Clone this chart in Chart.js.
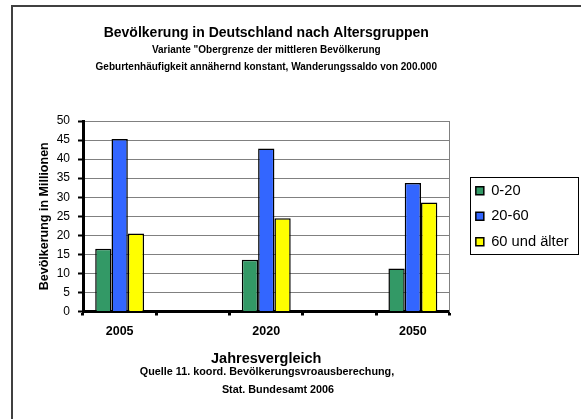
<!DOCTYPE html>
<html>
<head>
<meta charset="utf-8">
<script src="https://cdn.jsdelivr.net/npm/chart.js@4/dist/chart.umd.min.js"></script>
<style>
  html, body { margin: 0; padding: 0; background: #fff; }
  #wrap { width: 581px; height: 419px; position: relative; }
</style>
</head>
<body>
<div id="wrap"><canvas id="popChart"></canvas></div>
<script>
// Werte (Millionen)
const years = ['2005', '', '2020', '', '2050'];
const age0to20 = [16.5, null, 13.6, null, 11.3];
const age20to60 = [45.3, null, 42.8, null, 33.7];
const age60plus = [20.5, null, 24.5, null, 28.6];
const seriesNames = ['0-20', '20-60', '60 und älter'];
const yTicks = { min: 0, max: 50, step: 5 };

const titleText = 'Bevölkerung in Deutschland nach Altersgruppen';
const subtitleLines = [
    'Variante "Obergrenze der mittleren Bevölkerung',
    'Geburtenhäufigkeit annähernd konstant, Wanderungssaldo von 200.000'
];
const sourceLines = [
    'Quelle 11. koord. Bevölkerungsvroausberechung,',
    'Stat. Bundesamt 2006'
];

const FONT = "'Liberation Sans', Arial, sans-serif";
Chart.defaults.font.family = FONT;
Chart.defaults.color = '#000';

// Rahmen, Legendenkasten und Quellenangabe
const decorations = {
    id: 'decorations',
    beforeDraw(chart) {
        const { ctx } = chart;
        ctx.save();
        ctx.strokeStyle = '#404040';
        ctx.lineWidth = 2;
        ctx.beginPath();
        ctx.moveTo(12, 419);
        ctx.lineTo(12, 6);
        ctx.lineTo(581, 6);
        ctx.stroke();
        ctx.restore();
    },
    afterDraw(chart) {
        const { ctx } = chart;
        const boxes = chart.legend.legendHitBoxes;
        if (boxes && boxes.length) {
            const first = boxes[0];
            const last = boxes[boxes.length - 1];
            const right = Math.max(...boxes.map(b => b.left + b.width));
            ctx.save();
            ctx.strokeStyle = '#000';
            ctx.lineWidth = 1;
            ctx.strokeRect(Math.round(first.left - 6) + 0.5, Math.round(first.top - 6) + 0.5,
                Math.round(right - first.left + 15), Math.round(last.top + last.height - first.top + 11.5));
            ctx.restore();
        }
        ctx.save();
        ctx.fillStyle = '#000';
        ctx.textAlign = 'center';
        ctx.textBaseline = 'middle';
        ctx.font = 'bold 10.8px ' + FONT;
        ctx.fillText(sourceLines[0], 267, 372);
        ctx.fillText(sourceLines[1], 278, 390);
        ctx.restore();
    }
};

new Chart(document.getElementById('popChart'), {
    type: 'bar',
    data: {
        labels: years,
        datasets: [{
            label: seriesNames[0],
            data: age0to20,
            backgroundColor: '#339966',
        }, {
            label: seriesNames[1],
            data: age20to60,
            backgroundColor: '#3366FF',
        }, {
            label: seriesNames[2],
            data: age60plus,
            backgroundColor: '#FFFF00',
        }]
    },
    options: {
        responsive: true,
        maintainAspectRatio: false,
        animation: false,
        datasets: {
            bar: {
                borderColor: '#000',
                borderWidth: 1.5,
                categoryPercentage: 0.667,
                barPercentage: 1
            }
        },
        layout: { padding: { left: 12, right: 2.25, top: 0, bottom: 51.6 } },
        plugins: {
            title: {
                display: true,
                text: titleText,
                fullSize: false,
                font: { size: 14, weight: 'bold' },
                padding: { top: 25, bottom: 0 }
            },
            subtitle: {
                display: true,
                text: subtitleLines,
                fullSize: false,
                color: '#000',
                font: { size: 10, weight: 'bold', lineHeight: 1.7 },
                padding: { top: 0, bottom: 45.2 }
            },
            legend: {
                position: 'right',
                fullSize: false,
                maxWidth: 130,
                labels: {
                    boxWidth: 8,
                    boxHeight: 8,
                    padding: 10.8,
                    font: { size: 14.7 }
                }
            },
            tooltip: { enabled: false }
        },
        scales: {
            x: {
                grid: {
                    drawOnChartArea: false,
                    tickLength: 4,
                    tickWidth: 3,
                    tickColor: '#000'
                },
                border: { color: '#000', width: 3 },
                ticks: { padding: 9, font: { size: 12.5, weight: 'bold' } },
                title: {
                    display: true,
                    text: 'Jahresvergleich',
                    font: { size: 14.5, weight: 'bold' },
                    padding: { top: 1.5, bottom: 0 }
                }
            },
            y: {
                min: yTicks.min,
                max: yTicks.max,
                afterFit: scale => { scale.width = 71; },
                grid: {
                    color: '#808080',
                    lineWidth: 1,
                    tickLength: 5,
                    tickWidth: 2,
                    tickColor: '#000'
                },
                border: { color: '#000', width: 3 },
                ticks: { stepSize: yTicks.step, padding: 8, font: { size: 12 } },
                title: {
                    display: true,
                    text: 'Bevölkerung in Millionen',
                    font: { size: 12.5, weight: 'bold' },
                    padding: { top: 25.5, bottom: 0 }
                }
            },
            yRight: {
                position: 'right',
                min: yTicks.min,
                max: yTicks.max,
                afterFit: scale => { scale.width = 15.5; },
                grid: { drawOnChartArea: false, drawTicks: false },
                border: { color: '#808080', width: 1 },
                ticks: { display: false }
            }
        }
    },
    plugins: [decorations]
});
</script>
</body>
</html>
